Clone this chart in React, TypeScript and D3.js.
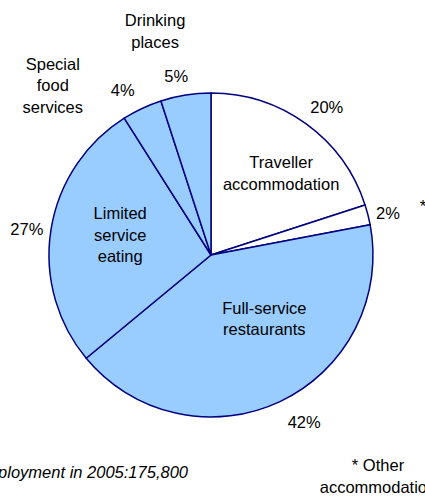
import React from "react";
import * as d3 from "d3";

const categories = [
  "Traveller accommodation",
  "Other accommodation",
  "Full-service restaurants",
  "Limited service eating",
  "Special food services",
  "Drinking places",
];
const values = [20, 2, 42, 27, 4, 5];
const percentLabels = ["20%", "2%", "42%", "27%", "4%", "5%"];
const fills = ["#FFFFFF", "#FFFFFF", "#99CCFF", "#99CCFF", "#99CCFF", "#99CCFF"];
const nameLines = [
  ["Traveller", "accommodation"],
  [],
  ["Full-service", "restaurants"],
  ["Limited", "service", "eating"],
  ["Special", "food", "services"],
  ["Drinking", "places"],
];
// polar layout for the name labels: [angle in degrees clockwise from top, radius]
const nameLayout: [number, number][] = [
  [40.5, 108],
  [0, 0],
  [140, 83],
  [282.5, 93],
  [317, 232],
  [346, 231],
];
const pctRadius = [188, 182, 191, 186, 187, 182];
const pctAngleShift = [2, 1, -4, -1, -3, -2];

const W = 425;
const H = 496;
const cx = 211;
const cy = 255;
const R = 162;
const FS = 16.5;
const LH = 21.5;

export default function App() {
  const pie = d3.pie<number>().sort(null).value((d) => d)(values);
  const arc = d3.arc<d3.PieArcDatum<number>>().innerRadius(0).outerRadius(R);
  const polar = (deg: number, r: number) => {
    const a = (deg * Math.PI) / 180;
    return [cx + r * Math.sin(a), cy - r * Math.cos(a)];
  };
  return (
    <svg
      width={W}
      height={H}
      style={{ position: "absolute", left: 0, top: 0, background: "#fff" }}
      fontFamily="'Liberation Sans', Arial, sans-serif"
      fontSize={FS}
    >
      <g transform={`translate(${cx},${cy})`}>
        {pie.map((p, i) => (
          <path
            key={categories[i]}
            d={arc(p) || ""}
            fill={fills[i]}
            stroke="#000080"
            strokeWidth={1.5}
            strokeLinejoin="round"
          />
        ))}
      </g>
      {pie.map((p, i) => {
        const mid = ((p.startAngle + p.endAngle) / 2) * (180 / Math.PI) + pctAngleShift[i];
        const [x, y] = polar(mid, pctRadius[i]);
        return (
          <text key={"p" + i} x={x} y={y} textAnchor="middle" dominantBaseline="central" fill="#000">
            {percentLabels[i]}
          </text>
        );
      })}
      {nameLines.map((lines, i) => {
        if (!lines.length) return null;
        const [x, y] = polar(nameLayout[i][0], nameLayout[i][1]);
        const top = y - ((lines.length - 1) * LH) / 2;
        return (
          <text key={"n" + i} textAnchor="middle" dominantBaseline="central" fill="#000">
            {lines.map((l, j) => (
              <tspan key={j} x={x} y={top + j * LH}>
                {l}
              </tspan>
            ))}
          </text>
        );
      })}
      <text x={423} y={206} textAnchor="middle" dominantBaseline="central">*</text>
      <text x={188} y={478} textAnchor="end" fontStyle="italic">
        Total employment in 2005:175,800
      </text>
      <text x={378} y={471} textAnchor="middle">* Other</text>
      <text x={378} y={493} textAnchor="middle">accommodation</text>
    </svg>
  );
}
